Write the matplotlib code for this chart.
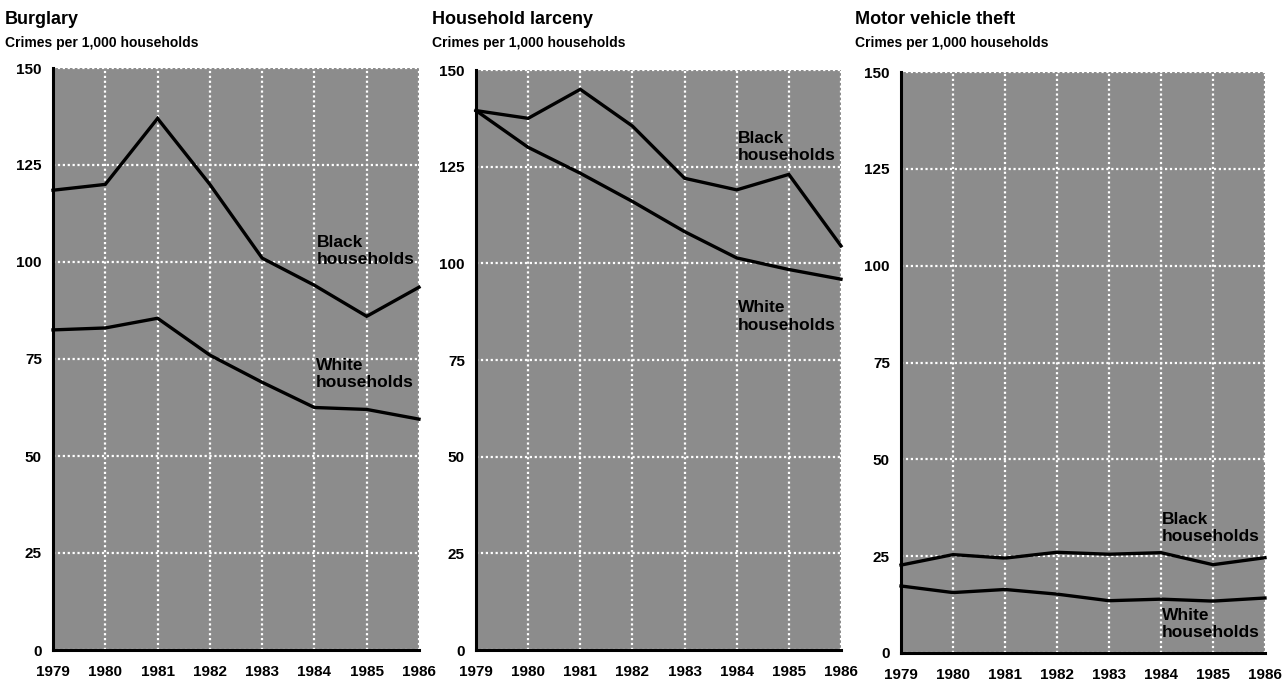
import matplotlib
matplotlib.use("Agg")
import matplotlib.pyplot as plt

plt.rcParams['font.family'] = ['Liberation Sans', 'DejaVu Sans']

years = [1979, 1980, 1981, 1982, 1983, 1984, 1985, 1986]
y_ticks = [0, 25, 50, 75, 100, 125, 150]

titles = ["Burglary", "Household larceny", "Motor vehicle theft"]
subtitle = "Crimes per 1,000 households"

burglary_black = [118.5, 120, 137, 120, 101, 94, 86, 93.5]
burglary_white = [82.5, 83, 85.5, 76, 69, 62.5, 62, 59.5]

larceny_black = [139.5, 137.5, 145, 135.5, 122, 119, 123, 104.5]
larceny_white = [139.5, 130, 123.3, 116, 108.2, 101.4, 98.4, 95.9]

motor_black = [22.7, 25.4, 24.5, 26.0, 25.5, 25.9, 22.8, 24.6]
motor_white = [17.3, 15.6, 16.4, 15.2, 13.5, 13.9, 13.4, 14.2]

black_label = "Black\nhouseholds"
white_label = "White\nhouseholds"

panels = [
    (titles[0], burglary_black, burglary_white, (1984.05, 102.9), (1984.03, 71.1)),
    (titles[1], larceny_black, larceny_white, (1984.02, 130.1), (1984.02, 86.3)),
    (titles[2], motor_black, motor_white, (1984.02, 32.2), (1984.02, 7.5)),
]

fig = plt.figure(figsize=(12.88, 6.86), dpi=100)
W, H = 1288, 686

# axes rectangles in pixel coords: (left, right, top(150), bottom(0))
rects = [(53, 419, 68, 650), (476, 841, 70, 650), (901, 1265, 72, 653)]
title_x = [5, 432, 855]

for (title, bvals, wvals, bpos, wpos), (l, r, t, b), tx in zip(panels, rects, title_x):
    ax = fig.add_axes([l / W, 1 - b / H, (r - l) / W, (b - t) / H])
    ax.set_facecolor('#8c8c8c')
    ax.set_xlim(1979, 1986)
    ax.set_ylim(0, 150)
    ax.set_xticks(years)
    ax.set_xticklabels([str(y) for y in years])
    ax.set_yticks(y_ticks)
    ax.set_yticklabels([str(v) for v in y_ticks])
    for s in ['top', 'right']:
        ax.spines[s].set_visible(False)
    ax.spines['left'].set_linewidth(2.2)
    ax.spines['bottom'].set_linewidth(2.2)
    ax.tick_params(length=0)
    ax.tick_params(axis='y', pad=8)
    ax.tick_params(axis='x', pad=11)
    for lab in ax.get_xticklabels() + ax.get_yticklabels():
        lab.set_fontweight('bold')
        lab.set_fontsize(11)
    ax.grid(True, color='white', linestyle=(0, (1, 1.2)), linewidth=1.6)
    ax.set_axisbelow(True)

    ax.plot(years, bvals, color='black', linewidth=2.4, solid_joinstyle='miter', clip_on=False, zorder=3)
    ax.plot(years, wvals, color='black', linewidth=2.4, solid_joinstyle='miter', clip_on=False, zorder=3)

    ax.text(bpos[0], bpos[1], black_label, fontsize=12.5, fontweight='bold', ha='left', va='center',
            linespacing=1.2, color='black', zorder=4)
    ax.text(wpos[0], wpos[1], white_label, fontsize=12.5, fontweight='bold', ha='left', va='center',
            linespacing=1.2, color='black', zorder=4)

    fig.text(tx / W, 1 - 20 / H, title, fontsize=13, fontweight='bold', ha='left', va='center')
    fig.text(tx / W, 1 - 43 / H, subtitle, fontsize=10, fontweight='bold', ha='left', va='center')

fig.savefig('out.png', dpi=100, facecolor='white')
